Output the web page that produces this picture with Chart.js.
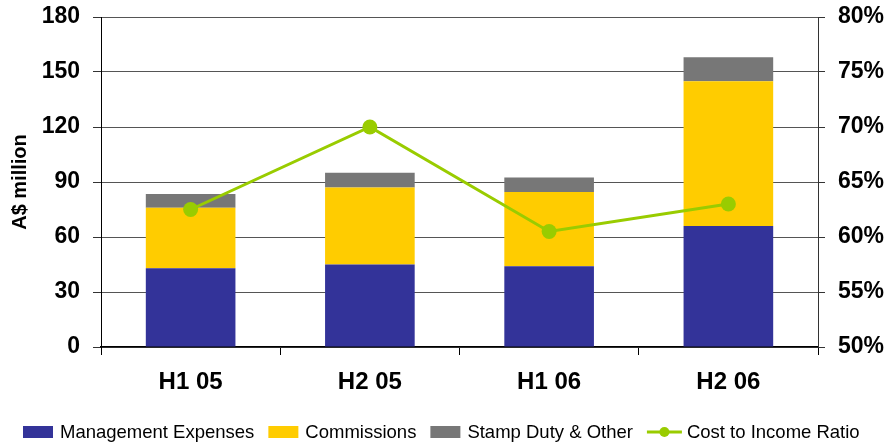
<!DOCTYPE html>
<html>
<head>
<meta charset="utf-8">
<script src="https://cdn.jsdelivr.net/npm/chart.js@4"></script>
<style>
  html, body { margin: 0; padding: 0; background: #fff; }
  #wrap { width: 891px; height: 442px; position: relative; }
</style>
</head>
<body>
<div id="wrap"><canvas id="chart"></canvas></div>
<script>
const categories = ['H1 05', 'H2 05', 'H1 06', 'H2 06']
const mgmtExpenses = [43, 45, 44, 66]
const commissions = [33, 42, 40.5, 79]
const stampDuty = [7.5, 8, 8, 13]
const costIncome = [62.5, 70, 60.5, 63]

const BLUE = '#333399'
const YELLOW = '#FFCC00'
const GREY = '#777777'
const GREEN = '#99CC00'
const FONT = 'Liberation Sans, Arial, sans-serif'

// legend drawn by hand to get the wide swatches and spacing of the original
const bottomLegend = {
  id: 'bottomLegend',
  afterDraw(ch) {
    const ctx = ch.ctx
    const y = 432
    let x = 23
    ctx.save()
    ctx.font = '18.5px ' + FONT
    ctx.textBaseline = 'middle'
    ch.data.datasets.forEach((ds) => {
      if (ds.type === 'line') {
        ctx.strokeStyle = ds.borderColor
        ctx.lineWidth = 3
        ctx.beginPath()
        ctx.moveTo(x, y)
        ctx.lineTo(x + 35, y)
        ctx.stroke()
        ctx.fillStyle = ds.borderColor
        ctx.beginPath()
        ctx.arc(x + 17.5, y, 5, 0, Math.PI * 2)
        ctx.fill()
        x += 40
      } else {
        ctx.fillStyle = ds.backgroundColor
        ctx.fillRect(x, y - 6, 30, 12)
        x += 37
      }
      ctx.fillStyle = '#000'
      ctx.fillText(ds.label, x, y + 1)
      x += ctx.measureText(ds.label).width + 14
    })
    ctx.restore()
  },
}

const tickFont = { family: FONT, size: 23, weight: 'bold' }
const noLabelPad = (s) => { s.paddingTop = 0; s.paddingBottom = 0 }

const chart = new Chart(document.getElementById('chart'), {
  type: 'bar',
  data: {
    labels: categories,
    datasets: [
      { label: 'Management Expenses', data: mgmtExpenses, backgroundColor: BLUE, stack: 's', order: 1, yAxisID: 'y' },
      { label: 'Commissions', data: commissions, backgroundColor: YELLOW, stack: 's', order: 2, yAxisID: 'y' },
      { label: 'Stamp Duty & Other', data: stampDuty, backgroundColor: GREY, stack: 's', order: 3, yAxisID: 'y' },
      {
        type: 'line', label: 'Cost to Income Ratio', data: costIncome, yAxisID: 'y1', order: 0,
        borderColor: GREEN, backgroundColor: GREEN, borderWidth: 3,
        pointRadius: 7.5, pointBackgroundColor: GREEN, pointBorderWidth: 0, tension: 0,
      },
    ],
  },
  plugins: [bottomLegend],
  options: {
    responsive: true,
    maintainAspectRatio: false,
    animation: false,
    layout: { padding: { top: 17, left: 8, right: 0, bottom: 35 } },
    datasets: { bar: { barPercentage: 0.5, categoryPercentage: 1 } },
    plugins: {
      tooltip: { enabled: false },
      legend: { display: false },
    },
    scales: {
      x: {
        stacked: true,
        offset: true,
        grid: { display: true, offset: true, drawOnChartArea: false, drawTicks: true, tickLength: 8, color: '#000', tickColor: '#000' },
        border: { display: true, color: '#000', width: 1.5 },
        ticks: { color: '#000', font: { family: FONT, size: 24, weight: 'bold' }, padding: 13 },
        afterFit: (s) => { s.height = 60 },
      },
      y: {
        stacked: true,
        position: 'left',
        min: 0,
        max: 180,
        ticks: { stepSize: 30, color: '#000', font: tickFont, padding: 13 },
        grid: { color: '#555', tickColor: '#333', tickLength: 8 },
        border: { display: true, color: '#000', width: 1 },
        title: { display: true, text: 'A$ million', color: '#000', padding: 0, font: { family: FONT, size: 20, weight: 'bold' } },
        afterFit: (s) => { s.width = 93; noLabelPad(s) },
      },
      y1: {
        position: 'right',
        min: 50,
        max: 80,
        ticks: { stepSize: 5, color: '#000', font: tickFont, padding: 13, callback: (v) => v + '%' },
        grid: { drawOnChartArea: false, tickColor: '#333', tickLength: 7 },
        border: { display: true, color: '#333', width: 1 },
        afterFit: (s) => { s.width = 73; noLabelPad(s) },
      },
    },
  },
})
</script>
</body>
</html>
